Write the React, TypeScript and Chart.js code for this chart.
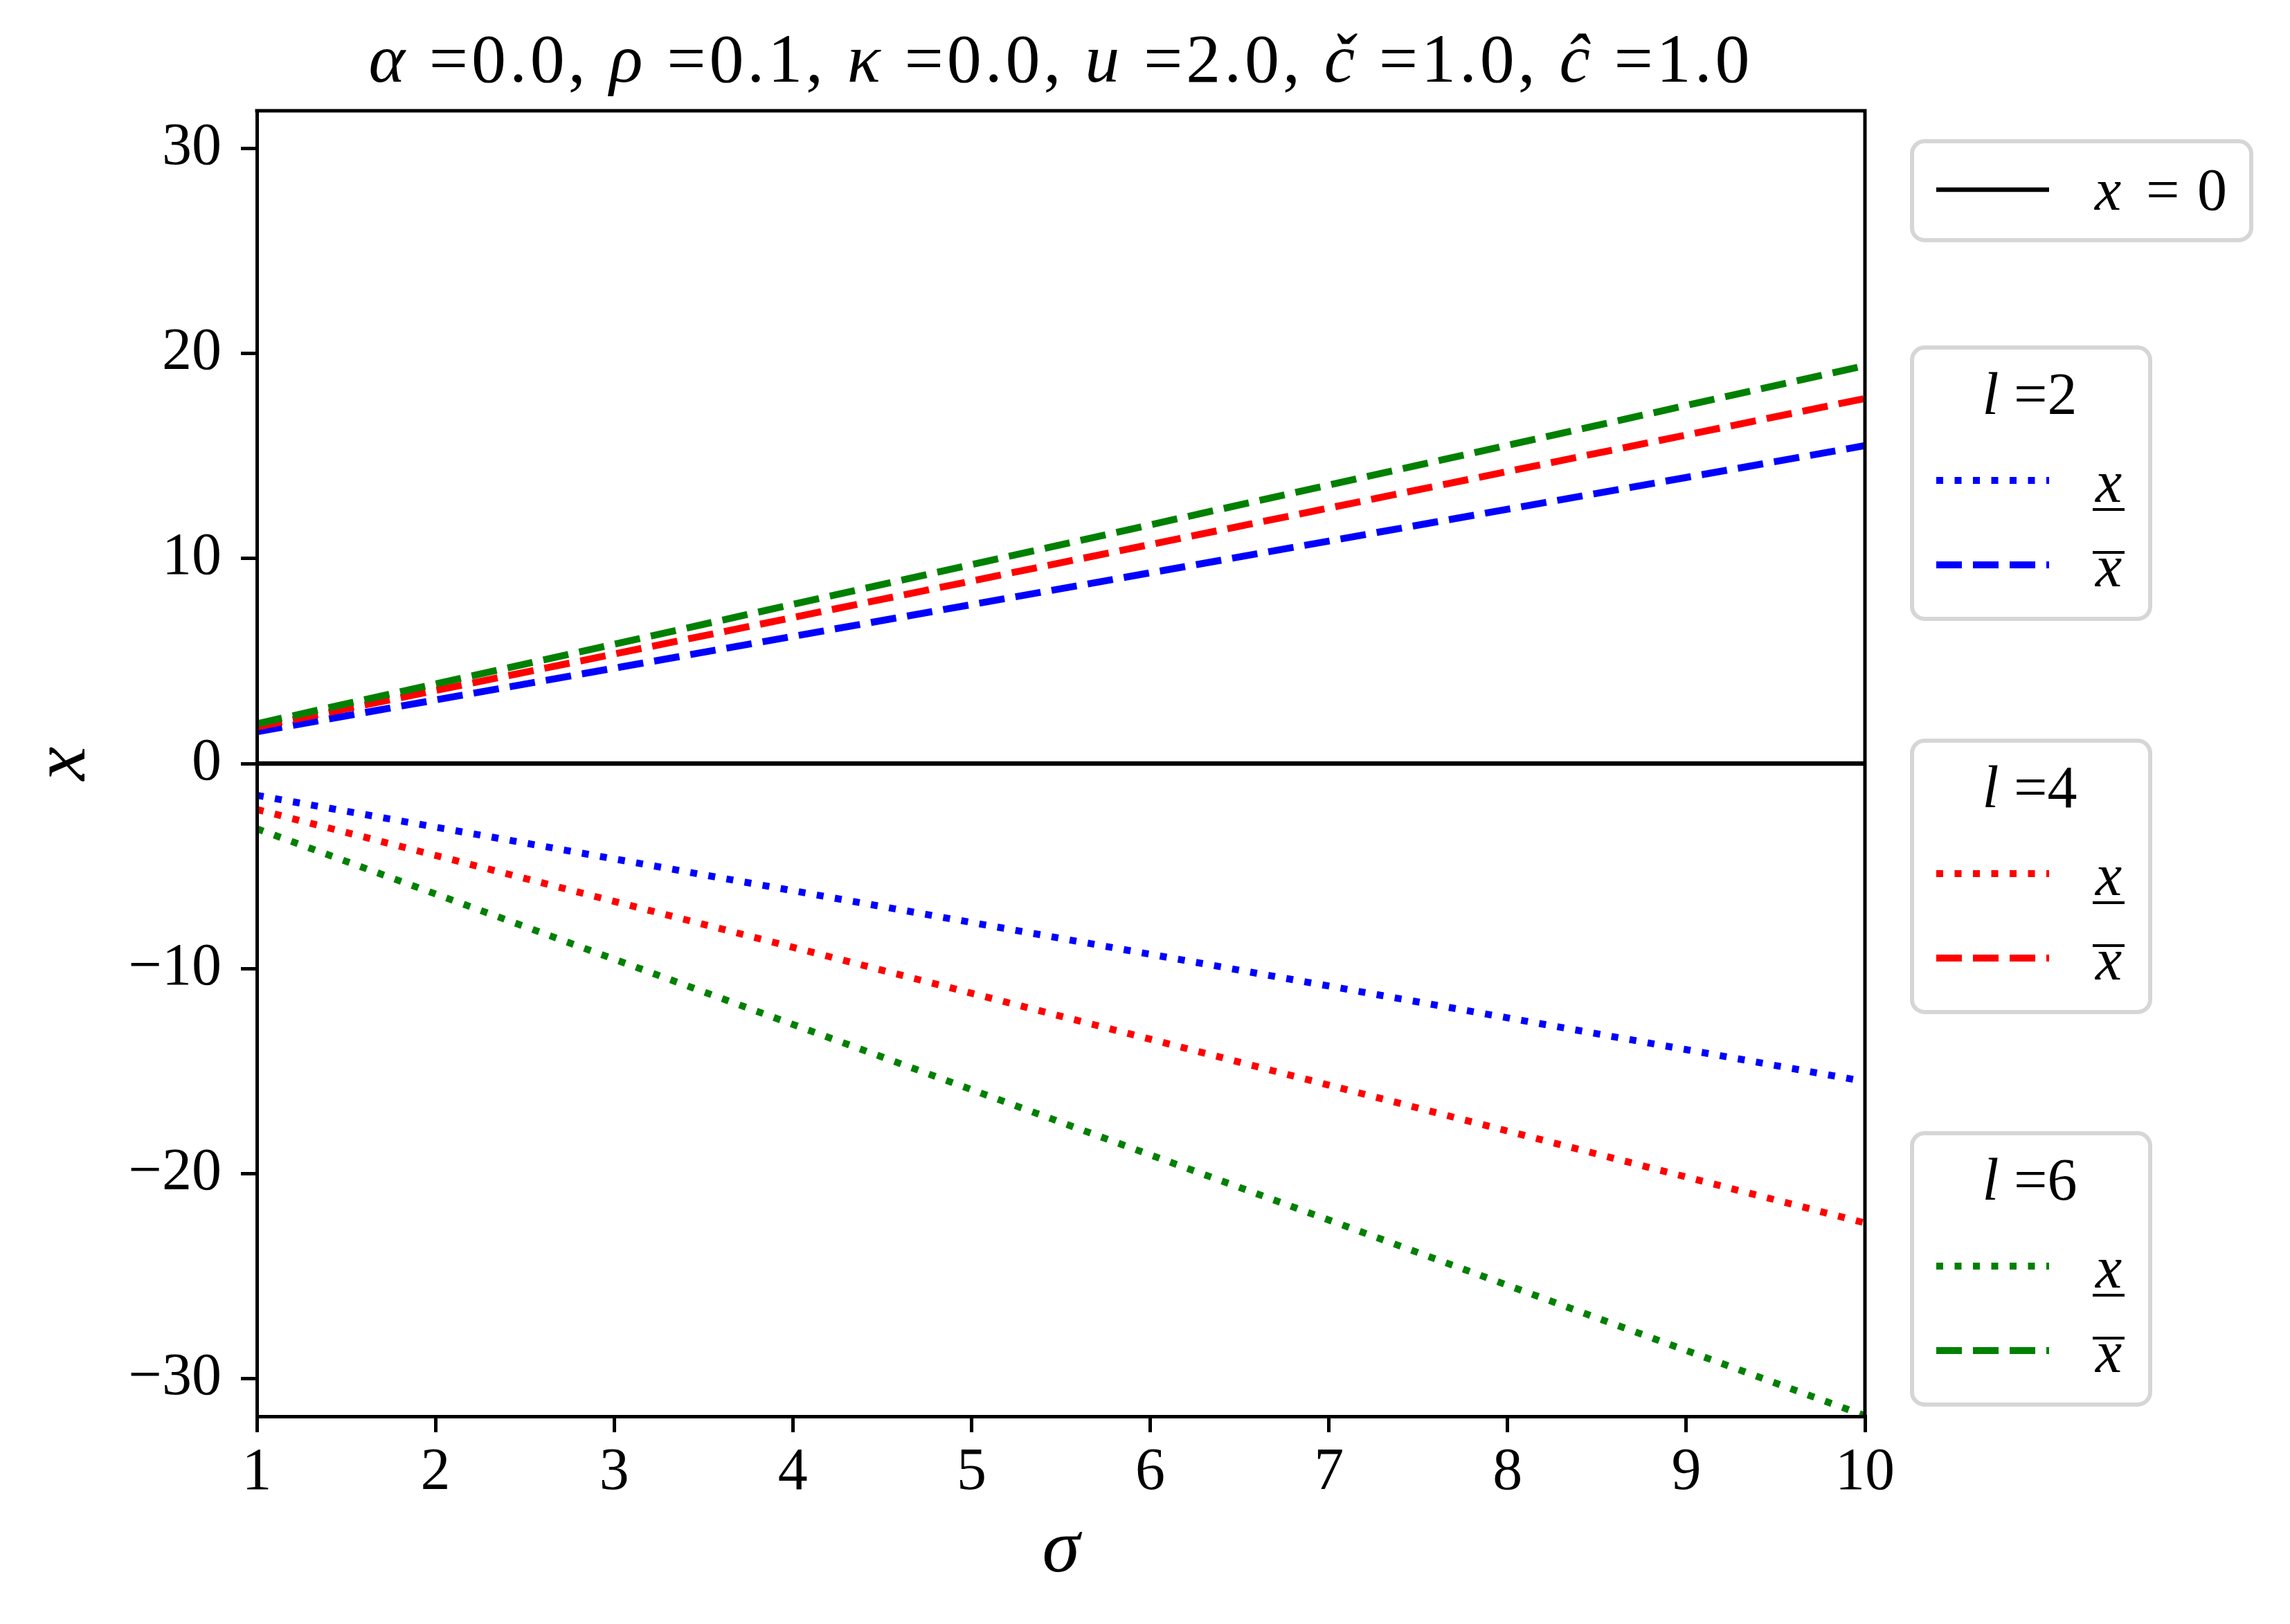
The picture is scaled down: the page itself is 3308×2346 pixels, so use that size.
import React, { useEffect, useRef } from 'react';
import { Chart, registerables } from 'chart.js';

Chart.register(...registerables);

// ---------------- data ----------------
const sigma = [1, 2, 3, 4, 5, 6, 7, 8, 9, 10];
// l = 2
const lowerL2 = [-1.55, -3.1, -4.65, -6.2, -7.75, -9.3, -10.85, -12.4, -13.95, -15.5];
const upperL2 = [1.55, 3.1, 4.65, 6.2, 7.75, 9.3, 10.85, 12.4, 13.95, 15.5];
// l = 4
const lowerL4 = [-2.24, -4.48, -6.72, -8.96, -11.2, -13.44, -15.68, -17.92, -20.16, -22.4];
const upperL4 = [1.78, 3.56, 5.34, 7.12, 8.9, 10.68, 12.46, 14.24, 16.02, 17.8];
// l = 6
const lowerL6 = [-3.18, -6.36, -9.54, -12.72, -15.9, -19.08, -22.26, -25.44, -28.62, -31.8];
const upperL6 = [1.94, 3.88, 5.82, 7.76, 9.7, 11.64, 13.58, 15.52, 17.46, 19.4];
// reference line x = 0
const zeroLine = [0, 0, 0, 0, 0, 0, 0, 0, 0, 0];

const xTicks = [1, 2, 3, 4, 5, 6, 7, 8, 9, 10];
const yTicks = [-30, -20, -10, 0, 10, 20, 30];
const xRange = [1, 10];
const yRange = [-31.83, 31.83];

const lValues = ['2', '4', '6'];
const titleParts: [string, boolean][] = [
  ['\u03B1', true], [' =0.0, ', false],
  ['\u03C1', true], [' =0.1, ', false],
  ['\u03BA', true], [' =0.0, ', false],
  ['u', true], [' =2.0, ', false],
  ['\u010D', true], [' =1.0, ', false],
  ['\u0109', true], [' =1.0', false],
];

// ---------------- styles ----------------
const W = 3308;
const H = 2346;
const FAMILY = "'Liberation Serif', 'Times New Roman', serif";
const COLORS = ['#0000ff', '#ff0000', '#008000'];
const DASHED = [37, 16];
const DOTTED = [10, 16.5];
const LW = 10;

const fnt = (size: number, italic: boolean) => `${italic ? 'italic ' : ''}${size}px ${FAMILY}`;

function toPts(ys: number[]) {
  return sigma.map((s, i) => ({ x: s, y: ys[i] }));
}

function fmtTick(v: number) {
  return v < 0 ? '\u2212' + Math.abs(v) : String(v);
}

function drawParts(ctx: CanvasRenderingContext2D, parts: [string, boolean][], cx: number, y: number, size: number, target?: number) {
  const widths = parts.map(([t, it]) => {
    ctx.font = fnt(size, it);
    return ctx.measureText(t).width;
  });
  const natural = widths.reduce((a, b) => a + b, 0);
  const nChars = parts.reduce((a, [t]) => a + t.length, 0);
  const ls = target ? (target - natural) / nChars : 0;
  const total = natural + ls * nChars;
  let x = cx - total / 2;
  ctx.textAlign = 'left';
  ctx.textBaseline = 'alphabetic';
  ctx.fillStyle = '#000';
  parts.forEach(([t, it], i) => {
    ctx.font = fnt(size, it);
    let xx = x;
    for (const ch of t) {
      ctx.fillText(ch, xx, y);
      xx += ctx.measureText(ch).width + ls;
    }
    x += widths[i] + ls * t.length;
  });
}

function roundBox(ctx: CanvasRenderingContext2D, x0: number, y0: number, x1: number, y1: number, r: number) {
  ctx.beginPath();
  ctx.moveTo(x0 + r, y0);
  ctx.lineTo(x1 - r, y0);
  ctx.arcTo(x1, y0, x1, y0 + r, r);
  ctx.lineTo(x1, y1 - r);
  ctx.arcTo(x1, y1, x1 - r, y1, r);
  ctx.lineTo(x0 + r, y1);
  ctx.arcTo(x0, y1, x0, y1 - r, r);
  ctx.lineTo(x0, y0 + r);
  ctx.arcTo(x0, y0, x0 + r, y0, r);
  ctx.closePath();
  ctx.fillStyle = '#ffffff';
  ctx.fill();
  ctx.strokeStyle = '#d6d6d6';
  ctx.lineWidth = 6;
  ctx.setLineDash([]);
  ctx.stroke();
}

function handle(ctx: CanvasRenderingContext2D, y: number, color: string, dash: number[], lw: number) {
  ctx.save();
  ctx.beginPath();
  ctx.strokeStyle = color;
  ctx.lineWidth = lw;
  ctx.lineCap = 'butt';
  ctx.setLineDash(dash);
  ctx.moveTo(2797, y);
  ctx.lineTo(2960, y);
  ctx.stroke();
  ctx.restore();
}

const decorPlugin = {
  id: 'decor',
  afterDraw(chart: any) {
    const ctx: CanvasRenderingContext2D = chart.ctx;
    const ca = chart.chartArea;
    ctx.save();
    // top & right spines
    ctx.strokeStyle = '#000';
    ctx.lineWidth = 5;
    ctx.setLineDash([]);
    ctx.beginPath();
    ctx.moveTo(ca.left - 2.5, ca.top);
    ctx.lineTo(ca.right, ca.top);
    ctx.lineTo(ca.right, ca.bottom + 2.5);
    ctx.stroke();

    // title
    drawParts(ctx, titleParts, (ca.left + ca.right) / 2, 118, 100, 2000);

    // legend 1: x = 0
    roundBox(ctx, 2762, 204, 3252, 347, 18);
    handle(ctx, 274, '#000', [], 6.6);
    ctx.fillStyle = '#000';
    ctx.textBaseline = 'alphabetic';
    ctx.textAlign = 'left';
    ctx.font = fnt(86, true);
    ctx.fillText('x', 3026, 303);
    ctx.font = fnt(86, false);
    ctx.fillText('=', 3100, 303);
    ctx.fillText('0', 3174, 303);

    // grouped legends
    const tops = [502, 1070, 1637];
    tops.forEach((top, gi) => {
      const color = COLORS[gi];
      roundBox(ctx, 2762, top, 3106, top + 392, 18);
      // title "l =N"
      ctx.fillStyle = '#000';
      ctx.textBaseline = 'alphabetic';
      const p1: [string, boolean][] = [['l', true], [' =' + lValues[gi], false]];
      drawParts(ctx, p1, 2932, top + 96, 86);
      const yDot = top + 192;
      const yDash = top + 314;
      handle(ctx, yDot, color, DOTTED, LW);
      handle(ctx, yDash, color, DASHED, LW);
      ctx.fillStyle = '#000';
      ctx.textAlign = 'center';
      ctx.font = fnt(86, true);
      ctx.fillText('x', 3046, yDot + 31);
      ctx.fillRect(3023, yDot + 40, 46, 4);
      ctx.fillText('x', 3046, yDash + 31);
      ctx.fillRect(3023, yDash - 20, 46, 4);
    });
    ctx.restore();
  },
};

export default function App() {
  const ref = useRef<HTMLCanvasElement | null>(null);

  useEffect(() => {
    if (!ref.current) return;
    const lineDs = (label: string, ys: number[], color: string, dash: number[], lw: number, order: number) => ({
      label,
      data: toPts(ys),
      borderColor: color,
      backgroundColor: color,
      borderWidth: lw,
      borderDash: dash,
      borderCapStyle: 'butt' as const,
      pointRadius: 0,
      pointHoverRadius: 0,
      tension: 0,
      fill: false,
      order,
    });
    const datasets = [
      lineDs('x = 0', zeroLine, '#000000', [], 6.6, 7),
      lineDs('l=2 lower', lowerL2, COLORS[0], DOTTED, LW, 6),
      lineDs('l=2 upper', upperL2, COLORS[0], DASHED, LW, 5),
      lineDs('l=4 lower', lowerL4, COLORS[1], DOTTED, LW, 4),
      lineDs('l=4 upper', upperL4, COLORS[1], DASHED, LW, 3),
      lineDs('l=6 lower', lowerL6, COLORS[2], DOTTED, LW, 2),
      lineDs('l=6 upper', upperL6, COLORS[2], DASHED, LW, 1),
    ];
    const chart = new Chart(ref.current, {
      type: 'line',
      data: { datasets },
      options: {
        responsive: false,
        animation: false,
        devicePixelRatio: 1,
        layout: { padding: { left: 0, right: W - 2694, top: 160, bottom: 0 } },
        plugins: {
          legend: { display: false },
          title: { display: false },
          tooltip: { enabled: false },
        },
        events: [],
        scales: {
          x: {
            type: 'linear',
            position: 'bottom',
            min: xRange[0],
            max: xRange[1],
            afterBuildTicks: (s: any) => { s.ticks = xTicks.map((v) => ({ value: v })); },
            afterFit: (s: any) => { s.height = H - 2046; },
            grid: { display: true, drawOnChartArea: false, drawTicks: true, tickLength: 23, tickWidth: 5, tickColor: '#000', color: '#000', lineWidth: 5 },
            border: { display: true, color: '#000', width: 5, z: 1 },
            ticks: { color: '#000', font: { family: FAMILY, size: 86 }, padding: 8, maxRotation: 0, autoSkip: false, callback: (v: any) => fmtTick(Number(v)) },
            title: { display: true, text: '\u03C3', color: '#000', font: { family: FAMILY, size: 110, style: 'italic' }, padding: { top: 0, bottom: 39 } },
          },
          y: {
            type: 'linear',
            position: 'left',
            min: yRange[0],
            max: yRange[1],
            afterBuildTicks: (s: any) => { s.ticks = yTicks.map((v) => ({ value: v })); },
            afterFit: (s: any) => { s.width = 371; },
            grid: { display: true, drawOnChartArea: false, drawTicks: true, tickLength: 23, tickWidth: 5, tickColor: '#000', color: '#000', lineWidth: 5 },
            border: { display: true, color: '#000', width: 5, z: 1 },
            ticks: { color: '#000', font: { family: FAMILY, size: 86 }, padding: 28, autoSkip: false, callback: (v: any) => fmtTick(Number(v)) },
            title: { display: true, text: 'x', color: '#000', font: { family: FAMILY, size: 110, style: 'italic' }, padding: { top: 27, bottom: 0 } },
          },
        },
      } as any,
      plugins: [decorPlugin],
    });
    return () => chart.destroy();
  }, []);

  return (
    <div style={{ position: 'fixed', left: 0, top: 0, width: W, height: H, background: '#ffffff' }}>
      <canvas ref={ref} width={W} height={H} style={{ display: 'block', width: W, height: H }} />
    </div>
  );
}
